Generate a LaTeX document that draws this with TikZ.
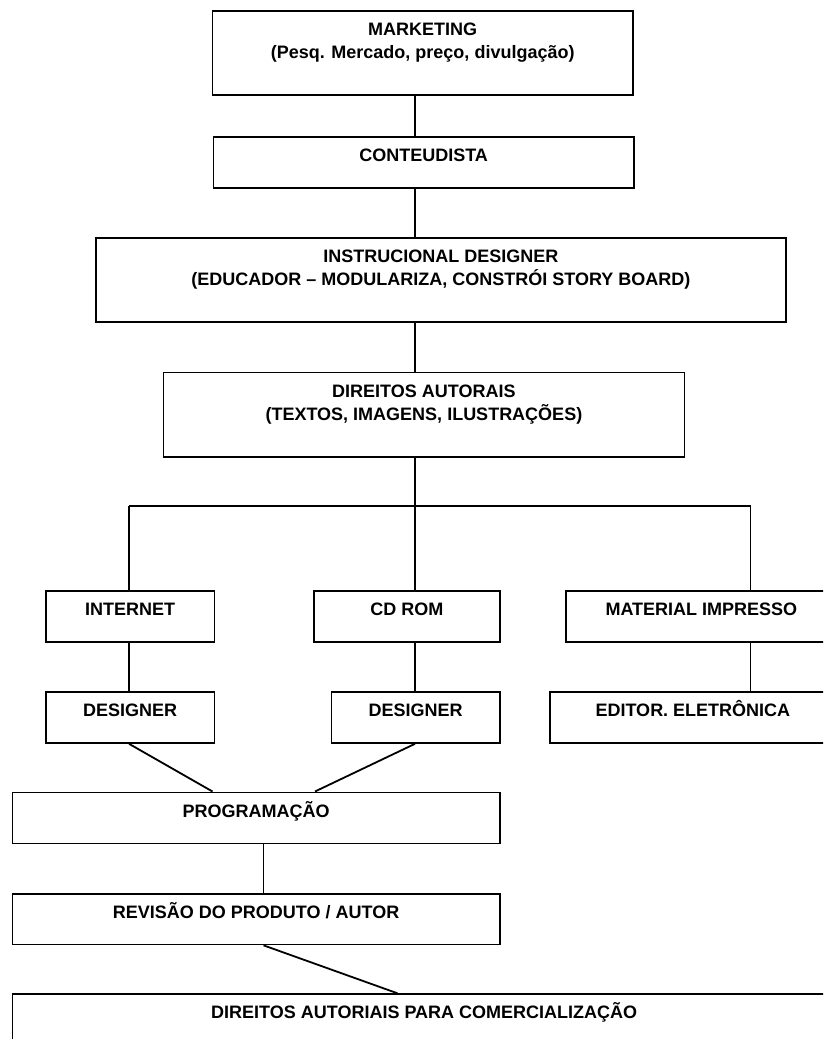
\documentclass[tikz,border=0pt]{standalone}
\usepackage{fontspec}
\setmainfont{Liberation Sans}[BoldFont={Liberation Sans Bold}]
\begin{document}
\begin{tikzpicture}[x=1pt,y=-1pt,
  box/.style={draw, line width=1.8pt, rectangle, inner sep=0pt, anchor=north west},
  lbl/.style={font=\bfseries\fontsize{18}{23}\selectfont, anchor=base, inner sep=0pt},
  conn/.style={line width=1.8pt}]
\clip (0,0) rectangle (823,1039);
% helper columns
\coordinate (spine) at (415,0);
\coordinate (busL) at (129,506);
\coordinate (busR) at (750.5,506);
\coordinate (p1) at (212.5,0);
\coordinate (p2) at (315,0);
\coordinate (col) at (263.5,0);
\coordinate (c1) at (397.5,0);
% boxes
\node[box, minimum width=420.5pt, minimum height=84pt] (mkt) at (211.5,10) {};
\node[box, minimum width=420.5pt, minimum height=51pt] (cont) at (212.5,136) {};
\node[box, minimum width=690pt, minimum height=84pt] (inst) at (95,237) {};
\node[box, minimum width=521pt, minimum height=84.5pt] (dir) at (162.5,371.5) {};
\node[box, minimum width=168.5pt, minimum height=51pt] (inet) at (45,590) {};
\node[box, minimum width=186pt, minimum height=51pt] (cdrom) at (313,590) {};
\node[box, minimum width=271pt, minimum height=51pt] (mat) at (565,590) {};
\node[box, minimum width=168.5pt, minimum height=51pt] (des1) at (45,691) {};
\node[box, minimum width=168.5pt, minimum height=51pt] (des2) at (330.5,691) {};
\node[box, minimum width=286pt, minimum height=51pt] (edit) at (549,691) {};
\node[box, minimum width=487.5pt, minimum height=51pt] (prog) at (11.5,791.5) {};
\node[box, minimum width=487.5pt, minimum height=50.5pt] (rev) at (11.5,893) {};
\node[box, minimum width=823.5pt, minimum height=80pt] (com) at (11.5,993.3) {};
% labels
\node[lbl] (mktA) at ([yshift=-25.5pt]mkt.north) {MARKETING};
\node[lbl] (mktB) at ([yshift=-48.5pt]mkt.north) {(Pesq. Mercado, preço, divulgação)};
\node[lbl] (contA) at ([yshift=-25.5pt]cont.north) {CONTEUDISTA};
\node[lbl] (instA) at ([yshift=-25.5pt]inst.north) {INSTRUCIONAL DESIGNER};
\node[lbl] (instB) at ([yshift=-48.5pt]inst.north) {(EDUCADOR – MODULARIZA, CONSTRÓI STORY BOARD)};
\node[lbl] (dirA) at ([yshift=-25.5pt]dir.north) {DIREITOS AUTORAIS};
\node[lbl] (dirB) at ([yshift=-48.5pt]dir.north) {(TEXTOS, IMAGENS, ILUSTRAÇÕES)};
\node[lbl] (inetA) at ([yshift=-25.5pt]inet.north) {INTERNET};
\node[lbl] (cdromA) at ([yshift=-25.5pt]cdrom.north) {CD ROM};
\node[lbl] (matA) at ([yshift=-25.5pt]mat.north) {MATERIAL IMPRESSO};
\node[lbl] (des1A) at ([yshift=-25.5pt]des1.north) {DESIGNER};
\node[lbl] (des2A) at ([yshift=-25.5pt]des2.north) {DESIGNER};
\node[lbl] (editA) at ([yshift=-25.5pt]edit.north) {EDITOR. ELETRÔNICA};
\node[lbl] (progA) at ([yshift=-25.5pt]prog.north) {PROGRAMAÇÃO};
\node[lbl] (revA) at ([yshift=-25.5pt]rev.north) {REVISÃO DO PRODUTO / AUTOR};
\node[lbl] (comA) at ([yshift=-25.5pt]com.north) {DIREITOS AUTORIAIS PARA COMERCIALIZAÇÃO};
% connectors
\draw[conn] (mkt.south -| spine) -- (cont.north -| spine);
\draw[conn] (cont.south -| spine) -- (inst.north -| spine);
\draw[conn] (inst.south -| spine) -- (dir.north -| spine);
\draw[conn] (dir.south -| spine) -- (cdrom.north -| spine);
\draw[conn] (busL) -- (busR);
\draw[conn] (busL) -- (inet.north -| busL);
\draw[conn] (busR) -- (mat.north -| busR);
\draw[conn] (inet.south -| busL) -- (des1.north -| busL);
\draw[conn] (cdrom.south -| spine) -- (des2.north -| spine);
\draw[conn] (mat.south -| busR) -- (edit.north -| busR);
\draw[conn] (des1.south -| busL) -- (prog.north -| p1);
\draw[conn] (des2.south -| spine) -- (prog.north -| p2);
\draw[conn] (prog.south -| col) -- (rev.north -| col);
\draw[conn] (rev.south -| col) -- (com.north -| c1);
\end{tikzpicture}
\end{document}
